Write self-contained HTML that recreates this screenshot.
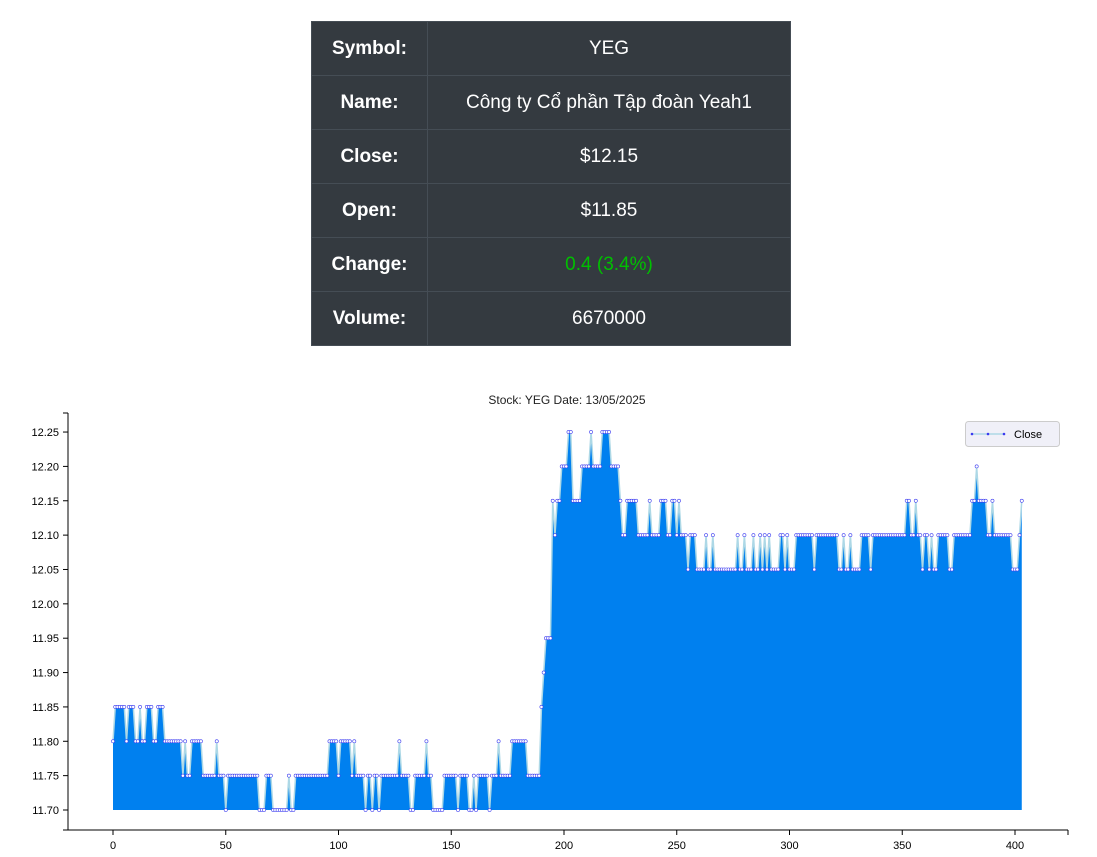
<!DOCTYPE html>
<html><head><meta charset="utf-8"><style>
body{margin:0;background:#fff;width:1097px;height:857px;overflow:hidden;font-family:"Liberation Sans",sans-serif}
table{position:absolute;left:311px;top:21px;width:480px;border-collapse:collapse;background:#343a40;color:#fff}
td{height:53px;border:1px solid #454d55;text-align:center;font-size:19px;padding:0}
td.l{width:115px;font-weight:bold}
svg{position:absolute;left:0;top:0}
</style></head><body>
<table>
<tr><td class="l">Symbol:</td><td>YEG</td></tr>
<tr><td class="l">Name:</td><td>Công ty Cổ phần Tập đoàn Yeah1</td></tr>
<tr><td class="l">Close:</td><td>$12.15</td></tr>
<tr><td class="l">Open:</td><td>$11.85</td></tr>
<tr><td class="l">Change:</td><td style="color:#00c000">0.4 (3.4%)</td></tr>
<tr><td class="l">Volume:</td><td>6670000</td></tr>
</table>
<svg id="chart" width="1097" height="857"></svg>
<script>
const closeValues=[
11.80,11.85,11.85,11.85,11.85,11.85,11.80,11.85,11.85,11.85,
11.80,11.80,11.85,11.80,11.80,11.85,11.85,11.85,11.80,11.80,
11.85,11.85,11.85,11.80,11.80,11.80,11.80,11.80,11.80,11.80,
11.80,11.75,11.80,11.75,11.75,11.80,11.80,11.80,11.80,11.80,
11.75,11.75,11.75,11.75,11.75,11.75,11.80,11.75,11.75,11.75,
11.70,11.75,11.75,11.75,11.75,11.75,11.75,11.75,11.75,11.75,
11.75,11.75,11.75,11.75,11.75,11.70,11.70,11.70,11.75,11.75,
11.75,11.70,11.70,11.70,11.70,11.70,11.70,11.70,11.75,11.70,
11.70,11.75,11.75,11.75,11.75,11.75,11.75,11.75,11.75,11.75,
11.75,11.75,11.75,11.75,11.75,11.75,11.80,11.80,11.80,11.80,
11.75,11.80,11.80,11.80,11.80,11.80,11.75,11.80,11.75,11.75,
11.75,11.75,11.70,11.75,11.75,11.70,11.75,11.75,11.70,11.75,
11.75,11.75,11.75,11.75,11.75,11.75,11.75,11.80,11.75,11.75,
11.75,11.75,11.70,11.70,11.75,11.75,11.75,11.75,11.75,11.80,
11.75,11.75,11.70,11.70,11.70,11.70,11.70,11.75,11.75,11.75,
11.75,11.75,11.75,11.70,11.75,11.75,11.75,11.75,11.70,11.70,
11.75,11.70,11.75,11.75,11.75,11.75,11.75,11.70,11.75,11.75,
11.75,11.80,11.75,11.75,11.75,11.75,11.75,11.80,11.80,11.80,
11.80,11.80,11.80,11.80,11.75,11.75,11.75,11.75,11.75,11.75,
11.85,11.90,11.95,11.95,11.95,12.15,12.10,12.15,12.15,12.20,
12.20,12.20,12.25,12.25,12.15,12.15,12.15,12.15,12.20,12.20,
12.20,12.20,12.25,12.20,12.20,12.20,12.20,12.25,12.25,12.25,
12.25,12.20,12.20,12.20,12.20,12.15,12.10,12.10,12.15,12.15,
12.15,12.15,12.15,12.10,12.10,12.10,12.10,12.10,12.15,12.10,
12.10,12.10,12.10,12.15,12.15,12.15,12.10,12.10,12.15,12.15,
12.10,12.15,12.10,12.10,12.10,12.05,12.10,12.10,12.10,12.05,
12.05,12.05,12.05,12.10,12.05,12.05,12.10,12.05,12.05,12.05,
12.05,12.05,12.05,12.05,12.05,12.05,12.05,12.10,12.05,12.05,
12.10,12.05,12.05,12.05,12.10,12.05,12.05,12.10,12.05,12.10,
12.05,12.10,12.05,12.05,12.05,12.05,12.10,12.10,12.05,12.10,
12.05,12.05,12.05,12.10,12.10,12.10,12.10,12.10,12.10,12.10,
12.10,12.05,12.10,12.10,12.10,12.10,12.10,12.10,12.10,12.10,
12.10,12.10,12.05,12.05,12.10,12.05,12.05,12.10,12.05,12.05,
12.05,12.05,12.10,12.10,12.10,12.10,12.05,12.10,12.10,12.10,
12.10,12.10,12.10,12.10,12.10,12.10,12.10,12.10,12.10,12.10,
12.10,12.10,12.15,12.15,12.10,12.10,12.15,12.10,12.10,12.05,
12.10,12.10,12.05,12.10,12.05,12.05,12.10,12.10,12.10,12.10,
12.10,12.05,12.05,12.10,12.10,12.10,12.10,12.10,12.10,12.10,
12.10,12.15,12.15,12.20,12.15,12.15,12.15,12.15,12.10,12.10,
12.15,12.10,12.10,12.10,12.10,12.10,12.10,12.10,12.10,12.05,
12.05,12.05,12.10,12.15];
const yTicks=[11.70,11.75,11.80,11.85,11.90,11.95,12.00,12.05,12.10,12.15,12.20,12.25];
const xTicks=[0,50,100,150,200,250,300,350,400];
const chartTitle="Stock: YEG Date: 13/05/2025";

const NS="http://www.w3.org/2000/svg";
const svg=document.getElementById('chart');
const X=i=>113+i*2.255;
const Y=v=>810-(v-11.70)/0.05*34.36;
function mk(t,a,p){const e=document.createElementNS(NS,t);for(const k in a)e.setAttribute(k,a[k]);(p||svg).appendChild(e);return e;}

const title=mk('text',{x:567,y:404,'text-anchor':'middle','font-size':12,fill:'#222'});
title.textContent=chartTitle;



let d='M'+X(0)+','+Y(11.70);
closeValues.forEach((v,i)=>{d+='L'+X(i).toFixed(2)+','+Y(v).toFixed(2);});
d+='L'+X(closeValues.length-1)+','+Y(11.70)+'Z';
const area=mk('path',{d:d,fill:'#0080ef',stroke:'none'});


let ld='';
closeValues.forEach((v,i)=>{ld+=(i?'L':'M')+X(i).toFixed(2)+','+Y(v).toFixed(2);});
const line=mk('path',{d:ld,fill:'none',stroke:'#add8e6','stroke-width':1.5});


const mg=mk('g',{});


closeValues.forEach((v,i)=>{mk('circle',{cx:X(i).toFixed(2),cy:Y(v).toFixed(2),r:1.6,fill:'#fff',stroke:'#3a3af0','stroke-width':0.6},mg);});

const yax=mk('g',{});


mk('line',{x1:68,y1:413,x2:68,y2:830,stroke:'#000'},yax);
mk('line',{x1:63,y1:413,x2:68,y2:413,stroke:'#000'},yax);
mk('line',{x1:63,y1:830,x2:68,y2:830,stroke:'#000'},yax);
yTicks.forEach(v=>{mk('line',{x1:63,y1:Y(v),x2:68,y2:Y(v),stroke:'#000'},yax);
 const t=mk('text',{x:59,y:Y(v)+4,'text-anchor':'end','font-size':11,fill:'#000'},yax);t.textContent=v.toFixed(2);});
const xax=mk('g',{});


mk('line',{x1:68,y1:830,x2:1068,y2:830,stroke:'#000'},xax);
mk('line',{x1:1068,y1:830,x2:1068,y2:835,stroke:'#000'},xax);
xTicks.forEach(v=>{mk('line',{x1:X(v),y1:830,x2:X(v),y2:835,stroke:'#000'},xax);
 const t=mk('text',{x:X(v),y:849,'text-anchor':'middle','font-size':11,fill:'#000'},xax);t.textContent=v;});

const lg=mk('g',{});


mk('rect',{x:965.5,y:421.5,width:94,height:25,rx:3,fill:'#f0f0f8',stroke:'#ccc'},lg);
mk('line',{x1:972,y1:434,x2:1004,y2:434,stroke:'#add8e6','stroke-width':1.5},lg);
[972,988,1004].forEach(x=>mk('circle',{cx:x,cy:434,r:1.3,fill:'#3a3af0'},lg));
const lt=mk('text',{x:1014,y:438,'font-size':11,fill:'#000'},lg);lt.textContent='Close';
</script>
</body></html>
